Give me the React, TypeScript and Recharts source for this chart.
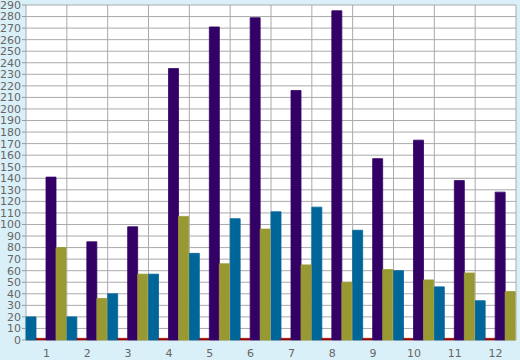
import React from "react";
import { BarChart, Bar, XAxis, YAxis, CartesianGrid } from "recharts";

const months = ["1", "2", "3", "4", "5", "6", "7", "8", "9", "10", "11", "12"];
const blueValues = [20, 20, 40, 57, 75, 105, 111, 115, 95, 60, 46, 34];
const redValues = [1.5, 1.5, 1.5, 1.5, 1.5, 1.5, 1.5, 1.5, 1.5, 1.5, 1.5, 1.5];
const purpleValues = [141, 85, 98, 235, 271, 279, 216, 285, 157, 173, 138, 128];
const oliveValues = [80, 36, 57, 107, 66, 96, 65, 50, 61, 52, 58, 42];
const yTicks = Array.from({ length: 30 }, (_, i) => i * 10);
const boundaryTicks = months.map((_, i) => i).concat([months.length]);

const data = months.map((m, i) => ({
  month: m,
  pos: i + 0.5,
  blue: blueValues[i],
  red: redValues[i],
  purple: purpleValues[i],
  olive: oliveValues[i],
}));

const tickFont = { fontFamily: "DejaVu Sans", fontSize: 11, fill: "#666" };

const App = () => {
  return (
    <div
      style={{
        position: "absolute",
        left: 0,
        top: 0,
        width: 520,
        height: 360,
        background: "#daf0f8",
      }}
    >
      <BarChart
        width={520}
        height={360}
        data={data}
        barCategoryGap={0}
        barGap={0}
        margin={{ top: 5, right: 4, left: 0, bottom: 0 }}
      >
        <CartesianGrid
          xAxisId="grid"
          stroke="#aaaaaa"
          fill="#ffffff"
          fillOpacity={1}
        />
        <XAxis
          xAxisId="grid"
          type="number"
          dataKey="pos"
          domain={[0, 12]}
          ticks={boundaryTicks}
          interval={0}
          height={0}
          tick={() => <g />}
          tickSize={5}
          tickLine={{ stroke: "#777" }}
          axisLine={false}
        />
        <XAxis
          dataKey="month"
          height={20}
          tickLine={false}
          axisLine={false}
          tick={tickFont}
          tickMargin={3}
          interval={0}
        />
        <YAxis
          width={26}
          domain={[0, 290]}
          ticks={yTicks}
          interval={0}
          tick={tickFont}
          tickSize={4}
          tickMargin={1}
          tickLine={{ stroke: "#999" }}
          axisLine={false}
        />
        <Bar dataKey="blue" fill="#006699" stroke="#006699" strokeWidth={0.8} isAnimationActive={false} />
        <Bar dataKey="red" fill="#990000" stroke="#990000" strokeWidth={0.5} isAnimationActive={false} />
        <Bar dataKey="purple" fill="#330066" stroke="#330066" strokeWidth={0.8} isAnimationActive={false} />
        <Bar dataKey="olive" fill="#999933" stroke="#999933" strokeWidth={0.8} isAnimationActive={false} />
      </BarChart>
    </div>
  );
};

export default App;
